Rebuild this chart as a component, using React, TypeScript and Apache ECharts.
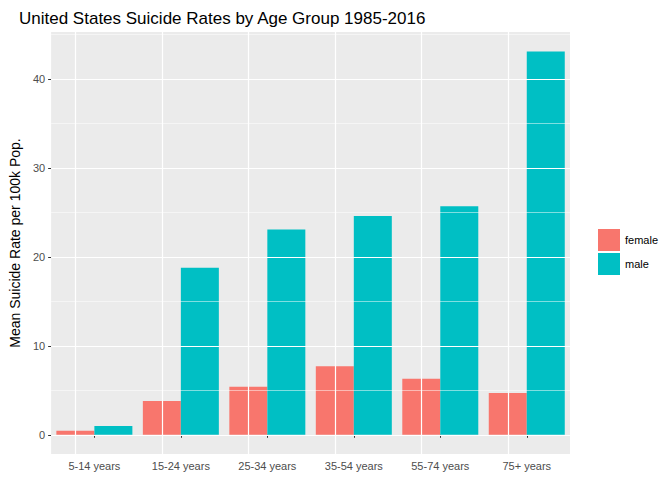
import { useEffect, useRef } from 'react';
import * as echarts from 'echarts';

const ageGroups = ['5-14 years', '15-24 years', '25-34 years', '35-54 years', '55-74 years', '75+ years'];
const femaleRates = [0.45, 3.8, 5.4, 7.7, 6.3, 4.7];
const maleRates = [1.0, 18.8, 23.1, 24.6, 25.7, 43.1];
const majorTicks = [0, 10, 20, 30, 40];
const minorTicks = [5, 15, 25, 35, 45];

const App = () => {
    const chartRef = useRef(null);

    useEffect(() => {
        if (!chartRef.current) return;
        const myChart = echarts.init(chartRef.current, null, { renderer: 'svg' });

        const gridLines = {
            silent: true,
            symbol: ['none', 'none'],
            label: { show: false },
            data: [
                ...majorTicks.map((v) => ({ yAxis: v, lineStyle: { color: '#fff', width: 1.2, type: 'solid' } })),
                ...minorTicks.map((v) => ({ yAxis: v, lineStyle: { color: '#fff', width: 0.5, type: 'solid' } })),
                ...ageGroups.map((c) => ({ xAxis: c, lineStyle: { color: '#fff', width: 1.2, type: 'solid' } })),
            ],
        };

        const option = {
            animation: false,
            textStyle: { fontFamily: 'Liberation Sans, Arial, sans-serif' },
            title: {
                text: 'United States Suicide Rates by Age Group 1985-2016',
                left: 14,
                top: 5,
                textStyle: { fontSize: 17, fontWeight: 'normal', color: '#000' },
            },
            legend: {
                orient: 'vertical',
                left: 593,
                top: 224,
                itemWidth: 22,
                itemHeight: 22,
                itemGap: 2,
                icon: 'rect',
                textStyle: { fontSize: 11, color: '#000' },
                data: ['female', 'male'],
            },
            grid: {
                left: 42,
                right: 102,
                top: 32,
                bottom: 26,
                show: true,
                backgroundColor: '#EBEBEB',
                borderWidth: 0,
            },
            xAxis: {
                type: 'category',
                data: ageGroups,
                axisLine: { show: false },
                axisTick: { show: true, alignWithLabel: true, length: 3, lineStyle: { color: '#333' } },
                axisLabel: { color: '#4D4D4D', fontSize: 11, margin: 6 },
                splitLine: { show: false },
            },
            yAxis: {
                type: 'value',
                min: -2.16,
                max: 45.3,
                name: 'Mean Suicide Rate per 100k Pop.',
                nameLocation: 'middle',
                nameGap: 28,
                nameTextStyle: { fontSize: 14, color: '#000' },
                axisLine: { show: false },
                axisTick: { show: true, length: 3, customValues: majorTicks, lineStyle: { color: '#333' } },
                axisLabel: { color: '#4D4D4D', fontSize: 11, margin: 6, customValues: majorTicks },
                splitLine: { show: false },
            },
            series: [
                {
                    name: 'female',
                    type: 'bar',
                    data: femaleRates,
                    barWidth: 38,
                    barGap: '0%',
                    itemStyle: { color: '#F8766D' },
                    markLine: gridLines,
                    z: 3,
                },
                {
                    name: 'male',
                    type: 'bar',
                    data: maleRates,
                    barWidth: 38,
                    barGap: '0%',
                    itemStyle: { color: '#00BFC4' },
                    z: 3,
                },
            ],
        };

        myChart.setOption(option);
        return () => {
            myChart.dispose();
        };
    }, []);

    return <div ref={chartRef} style={{ width: 672, height: 480, margin: -8 }} />;
};

export default App;
